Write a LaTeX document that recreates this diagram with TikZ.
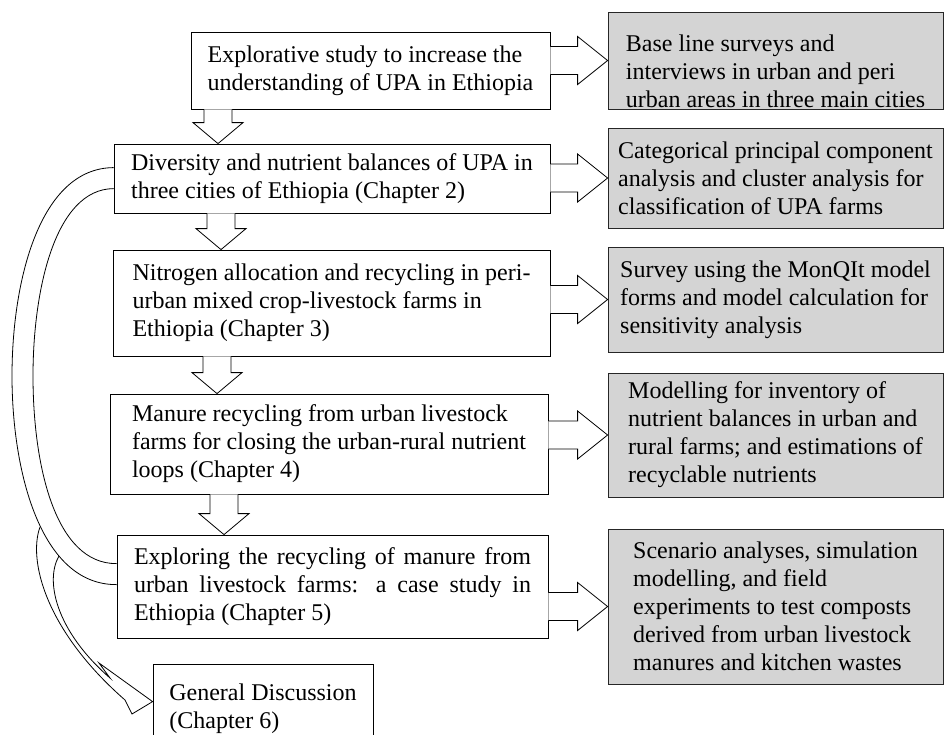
\documentclass[tikz,border=0pt]{standalone}
\usepackage{fontspec}
\setmainfont{Liberation Serif}
\usetikzlibrary{calc}

\tikzset{
  stagebox/.style={draw, fill=white, align=left, inner sep=0pt,
    font=\fontsize{12pt}{14pt}\selectfont},
  methodbox/.style={draw=black!85, fill=black!17, align=left, inner sep=0pt,
    font=\fontsize{12pt}{14pt}\selectfont},
  blockline/.style={draw, fill=white, line join=miter}
}

\begin{document}
\begin{tikzpicture}[x=0.5pt,y=-0.5pt]
  \useasboundingbox (0,0) rectangle (947,734);
  \clip (0,0) rectangle (947,734);

  % study chapters
  \node[stagebox, minimum width=179.5pt, minimum height=38.5pt] (A) at (370.5,70.5)
    {Explorative study to increase the\\understanding of UPA in Ethiopia};
  \node[stagebox, minimum width=218pt, minimum height=34.5pt] (B) at (332,178.5)
    {Diversity and nutrient balances of UPA in\\three cities of Ethiopia (Chapter 2)};
  \node[stagebox, minimum width=218.5pt, minimum height=53pt] (C) at (331.5,303)
    {Nitrogen allocation and recycling in peri-\\urban mixed crop-livestock farms in\\Ethiopia (Chapter 3)};
  \node[stagebox, minimum width=219pt, minimum height=50pt] (D) at (329,444)
    {Manure recycling from urban livestock\\farms for closing the urban-rural nutrient\\loops (Chapter 4)};
  \node[stagebox, align=justify, text width=198.5pt, inner xsep=8.5pt, minimum height=51.5pt] (E) at (332.5,586.5)
    {Exploring the recycling of manure from urban livestock farms: a case study in Ethiopia (Chapter 5)};
  \node[stagebox, minimum width=110pt, minimum height=45pt] (F) at (263,709)
    {General Discussion\\(Chapter 6)};

  % methods
  \node[methodbox, minimum width=167.5pt, minimum height=48.5pt] (G1) at (775.5,60.5)
    {\rule{0pt}{19.5pt}Base line surveys and\\interviews in urban and peri\\urban areas in three main cities};
  \node[methodbox, minimum width=167.5pt, minimum height=50pt] (G2) at (775.5,178)
    {Categorical principal component\\analysis and cluster analysis for\\classification of UPA farms};
  \node[methodbox, minimum width=167.5pt, minimum height=52.5pt] (G3) at (775.5,299.5)
    {Survey using the MonQIt model\\forms and model calculation for\\sensitivity analysis};
  \node[methodbox, minimum width=167.5pt, minimum height=62pt] (G4) at (775.5,435)
    {Modelling for inventory of\\nutrient balances in urban and\\rural farms; and estimations of\\recyclable nutrients};
  \node[methodbox, minimum width=167.5pt, minimum height=77.5pt] (G5) at (775.5,606.5)
    {Scenario analyses, simulation\\modelling, and field\\experiments to test composts\\derived from urban livestock\\manures and kitchen wastes};

  % block arrows down
  \foreach \cx/\from/\to in {218/A/B, 221/B/C, 217/C/D, 224/D/E} {
    \draw[blockline] let \p0=(\cx,0), \p1=(\from.south), \p2=(\to.north) in
      (\x0-7pt,\y1) -- (\x0-7pt,\y2+10.5pt) -- (\x0-12.5pt,\y2+10.5pt) -- (\x0,\y2)
      -- (\x0+12.5pt,\y2+10.5pt) -- (\x0+7pt,\y2+10.5pt) -- (\x0+7pt,\y1);
  }

  % block arrows right
  \foreach \from/\to in {A/G1, B/G2, C/G3, D/G4, E/G5} {
    \draw[blockline] let \p1=(\from.east), \p2=(\to.west) in
      (\x1,\y2+7pt) -- (\x2-15pt,\y2+7pt) -- (\x2-15pt,\y2+12pt) -- (\x2,\y2)
      -- (\x2-15pt,\y2-12pt) -- (\x2-15pt,\y2-7pt) -- (\x1,\y2-7pt);
  }

  % curved band from chapter 2 to chapter 5
  \coordinate (bo) at ([yshift=-12pt]B.north west);
  \coordinate (bi) at ([yshift=-22.5pt]B.north west);
  \coordinate (eo) at ([yshift=-25pt]E.north west);
  \coordinate (ei) at ([yshift=-14.5pt]E.north west);
  \draw (bo) .. controls (40,168) and (12,280) .. (12,376)
    .. controls (12,470) and (40,585) .. (eo);
  \draw (bi) .. controls (55,189) and (33,290) .. (33,376)
    .. controls (33,465) and (55,564) .. (ei);

  % curved arrow to the discussion
  \coordinate (ls1) at (40,527);
  \coordinate (ls2) at (59,556);
  \coordinate (tip) at ([yshift=-19pt]F.north west);
  \draw[line join=miter] (ls1) .. controls (28,560) and (45,630) .. (125,700)
    -- (132,714) -- (tip) -- (99,663) -- (110,678)
    .. controls (55,630) and (45,580) .. (ls2);
\end{tikzpicture}
\end{document}
